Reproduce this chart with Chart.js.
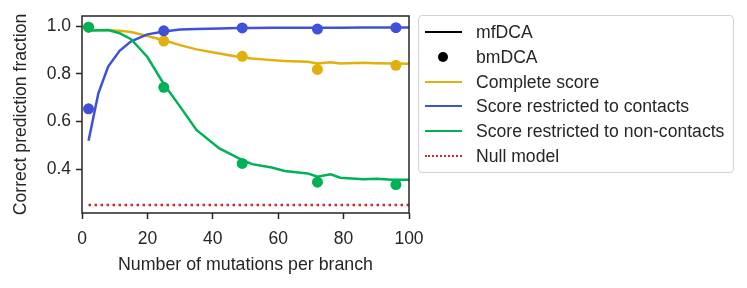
<!DOCTYPE html>
<html>
<head>
<meta charset="utf-8">
<script src="https://cdn.jsdelivr.net/npm/chart.js@4.4.1/dist/chart.umd.min.js"></script>
<style>
  html, body { margin: 0; padding: 0; background: #fff; }
  #wrap { position: relative; width: 747px; height: 288px; }
  #c { position: absolute; left: 0; top: 0; }
  #legend { position: absolute; left: 418px; top: 15px; width: 314px; height: 156px;
    border: 1px solid #d2d2d2; border-radius: 4px; background: rgba(255,255,255,0.8);
    font-family: "Liberation Sans", Arial, sans-serif; font-size: 17.6px; color: #262626; }
  .row { position: absolute; left: 0; height: 20px; line-height: 20px; white-space: nowrap; }
  .row .txt { position: absolute; left: 57px; top: 0; }
  .row .ln { position: absolute; left: 6px; top: 9px; width: 37px; height: 0; border-top: 2.5px solid #000; }
  .row .dot { position: absolute; left: 19px; top: 5px; width: 10px; height: 10px; border-radius: 50%; background: #000; }
</style>
</head>
<body>
<div id="wrap">
  <canvas id="c" width="747" height="288"></canvas>
  <div id="legend"></div>
</div>
<script>
// ---- Data ----
const mfX        = [2, 5, 8, 11.5, 15, 20, 25, 30, 35, 42, 48, 52, 58, 62, 69, 72, 76, 79, 86, 90, 95, 100];
const mfComplete = [0.985, 0.982, 0.982, 0.980, 0.975, 0.958, 0.940, 0.920, 0.902, 0.885, 0.870, 0.864, 0.857, 0.853, 0.850, 0.843, 0.848, 0.843, 0.846, 0.844, 0.843, 0.842];
const mfContacts = [0.519, 0.718, 0.830, 0.896, 0.936, 0.965, 0.977, 0.985, 0.988, 0.990, 0.992, 0.992, 0.993, 0.993, 0.993, 0.993, 0.993, 0.993, 0.994, 0.994, 0.994, 0.994];
const mfNonContacts = [0.980, 0.982, 0.983, 0.970, 0.945, 0.870, 0.757, 0.662, 0.564, 0.487, 0.445, 0.421, 0.407, 0.392, 0.382, 0.368, 0.378, 0.364, 0.358, 0.360, 0.355, 0.355];

const bmX           = [2, 25, 49, 72, 96];
const bmComplete    = [0.995, 0.937, 0.873, 0.818, 0.835];
const bmContacts    = [0.653, 0.980, 0.992, 0.987, 0.993];
const bmNonContacts = [0.995, 0.743, 0.424, 0.345, 0.335];

const nullX = [2, 100];
const nullY = [0.25, 0.25];

const xTicks = [0, 20, 40, 60, 80, 100];
const yTicks = [0.4, 0.6, 0.8, 1.0];

const legendLabels = ["mfDCA", "bmDCA", "Complete score", "Score restricted to contacts", "Score restricted to non-contacts", "Null model"];

// ---- Styles ----
const C_YEL = "#e2b00c", C_BLU = "#3f51d8", C_GRN = "#00b255", C_RED = "#d02a2a";
const INK = "#262626";
const FONT = "'Liberation Sans', Arial, sans-serif";

const pts = (xs, ys) => xs.map((x, i) => ({x: x, y: ys[i]}));

function lineDs(xs, ys, color, extra) {
  return Object.assign({ type: 'line', data: pts(xs, ys), borderColor: color, backgroundColor: color,
    borderWidth: 2.5, pointRadius: 0, tension: 0, fill: false, order: 2 }, extra || {});
}
function dotDs(xs, ys, color) {
  return { type: 'scatter', data: pts(xs, ys), borderColor: color, backgroundColor: color,
    pointRadius: 5.5, pointBorderWidth: 0, order: 1 };
}

const frame = {
  id: 'frame',
  afterDatasetsDraw(chart) {
    const a = chart.chartArea, ctx = chart.ctx;
    ctx.save();
    ctx.strokeStyle = INK; ctx.lineWidth = 1.5;
    ctx.strokeRect(a.left, a.top, a.right - a.left, a.bottom - a.top);
    ctx.restore();
  }
};

new Chart(document.getElementById('c'), {
  data: {
    datasets: [
      dotDs(bmX, bmNonContacts, C_GRN),
      dotDs(bmX, bmContacts, C_BLU),
      dotDs(bmX, bmComplete, C_YEL),
      lineDs(mfX, mfNonContacts, C_GRN),
      lineDs(mfX, mfContacts, C_BLU),
      lineDs(mfX, mfComplete, C_YEL),
      lineDs(nullX, nullY, C_RED, { borderDash: [2.5, 3.5], borderWidth: 2.5, borderCapStyle: 'butt', order: 3 })
    ]
  },
  options: {
    responsive: false, animation: false, devicePixelRatio: 1,
    layout: { padding: { left: 0, top: 16, right: 338, bottom: 0 } },
    plugins: { legend: { display: false }, tooltip: { enabled: false } },
    scales: {
      x: {
        type: 'linear', min: 0, max: 100,
        afterFit(s) { s.height = 75; },
        afterBuildTicks(s) { s.ticks = xTicks.map(v => ({value: v})); },
        grid: { display: true, drawOnChartArea: false, drawTicks: true, tickLength: 6, tickWidth: 1.5, tickColor: INK },
        border: { display: false },
        ticks: { color: INK, font: { family: FONT, size: 17.5 }, padding: 10, maxRotation: 0 },
        title: { display: true, text: "Number of mutations per branch", color: INK,
          font: { family: FONT, size: 17.8 }, padding: { top: 0, bottom: 12 } }
      },
      y: {
        type: 'linear', min: 0.216, max: 1.042,
        afterFit(s) { s.width = 82; },
        afterBuildTicks(s) { s.ticks = yTicks.map(v => ({value: v})); },
        grid: { display: true, drawOnChartArea: false, drawTicks: true, tickLength: 6, tickWidth: 1.5, tickColor: INK },
        border: { display: false },
        ticks: { color: INK, font: { family: FONT, size: 17.5 }, padding: 5, callback: v => v.toFixed(1) },
        title: { display: true, text: "Correct prediction fraction", color: INK,
          font: { family: FONT, size: 17.6 }, padding: { top: 10.5, bottom: 0 } }
      }
    }
  },
  plugins: [frame]
});

// ---- Legend (HTML text) ----
const legendStyles = [
  { kind: 'ln', color: '#000' },
  { kind: 'dot', color: '#000' },
  { kind: 'ln', color: C_YEL },
  { kind: 'ln', color: C_BLU },
  { kind: 'ln', color: C_GRN },
  { kind: 'dash', color: C_RED }
];
const leg = document.getElementById('legend');
legendLabels.forEach((lab, i) => {
  const r = document.createElement('div');
  r.className = 'row';
  r.style.top = (6 + i * 24.8) + 'px';
  const st = legendStyles[i];
  const h = document.createElement('div');
  if (st.kind === 'dot') { h.className = 'dot'; h.style.background = st.color; }
  else {
    h.className = 'ln';
    h.style.borderTopColor = st.color;
    if (st.kind === 'dash') { h.style.borderTopStyle = 'dotted'; h.style.borderTopWidth = '2.5px'; }
  }
  r.appendChild(h);
  const t = document.createElement('span');
  t.className = 'txt'; t.textContent = lab;
  r.appendChild(t);
  leg.appendChild(r);
});
</script>
</body>
</html>
